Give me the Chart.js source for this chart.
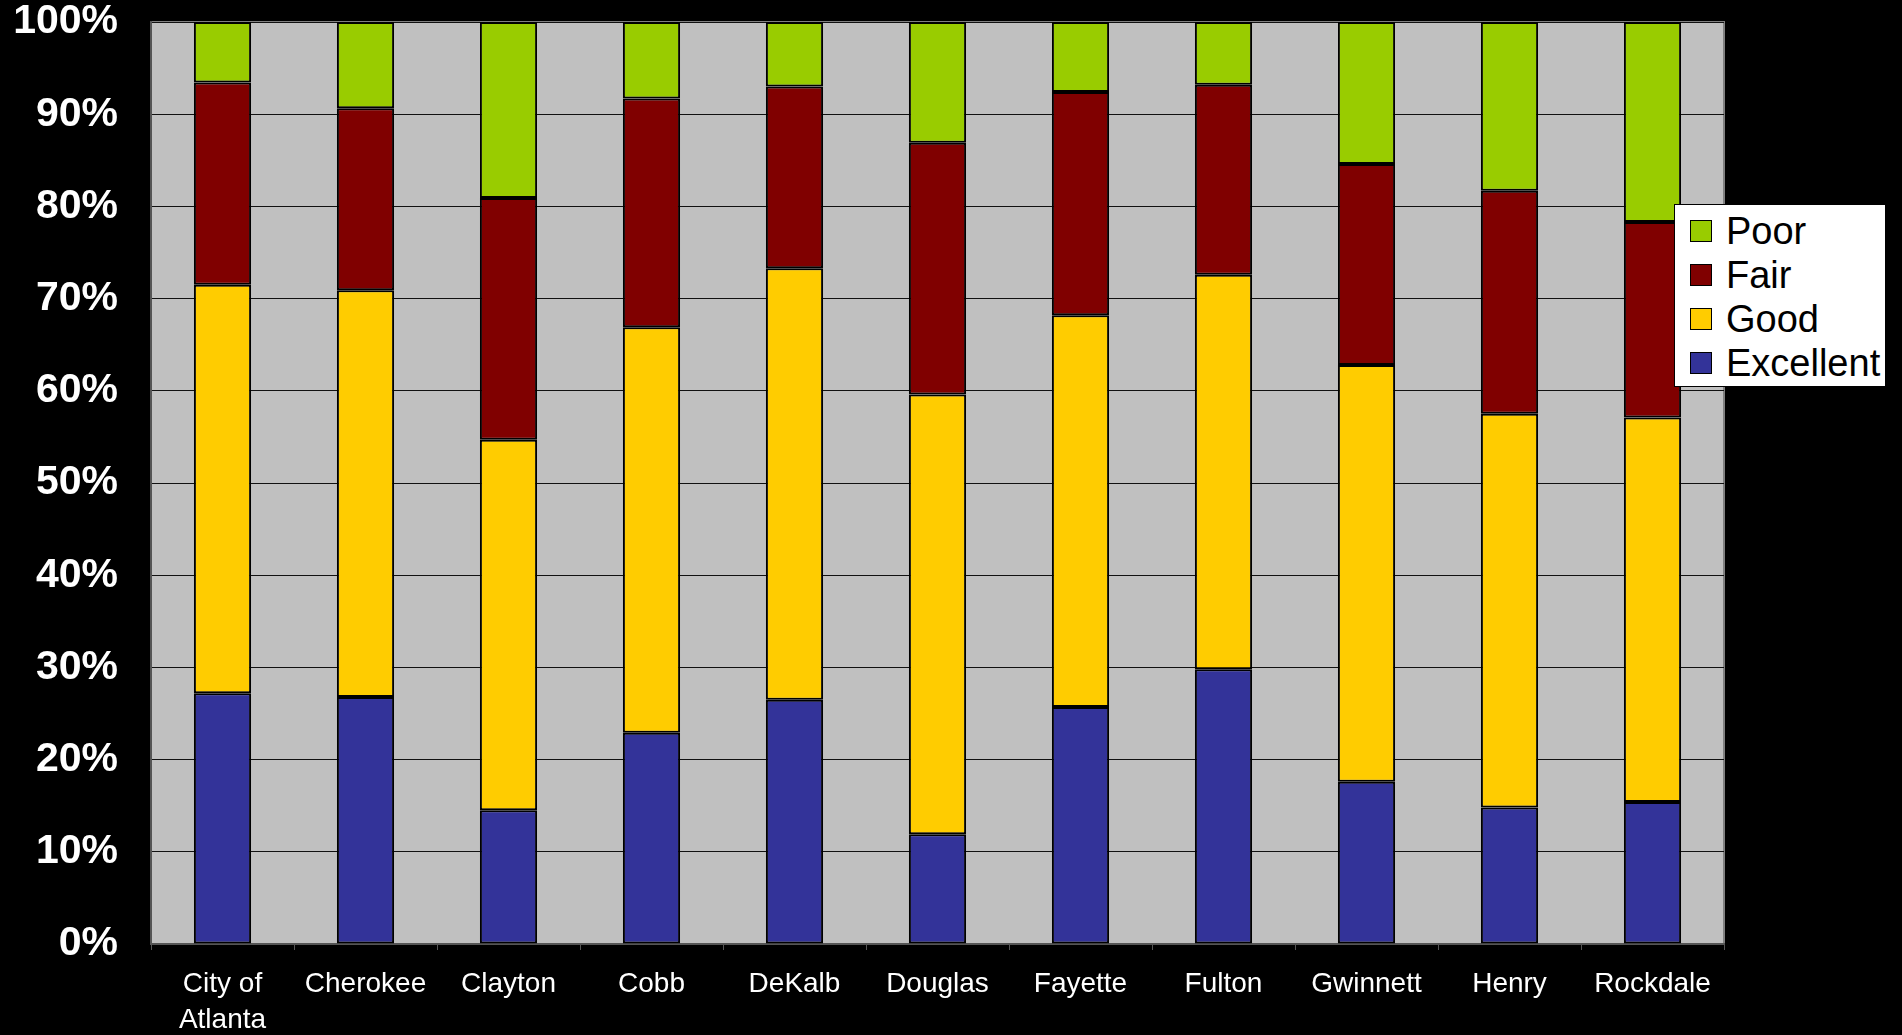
<!DOCTYPE html>
<html>
<head>
<meta charset="utf-8">
<script src="https://cdn.jsdelivr.net/npm/chart.js@4.4.1/dist/chart.umd.min.js"></script>
<style>
  html, body { margin: 0; padding: 0; background: #000; }
  #wrap { position: relative; width: 1902px; height: 1035px; }
  #legend {
    position: absolute; left: 1674px; top: 204px; width: 212px; height: 183px;
    background: #fff; border: 1px solid #000; font-family: "Liberation Sans", Arial, sans-serif;
    font-size: 38px; color: #000; box-sizing: border-box; padding-top: 4px;
  }
  #legend .item { height: 44px; display: flex; align-items: center; }
  #legend .box { width: 20px; height: 20px; border: 1.5px solid #000; margin-left: 15px; margin-right: 14px; }
</style>
</head>
<body>
<div id="wrap">
  <canvas id="c" width="1902" height="1035"></canvas>
  <div id="legend"></div>
</div>
<script>
const categories = [["City of", "Atlanta"], "Cherokee", "Clayton", "Cobb", "DeKalb", "Douglas",
  "Fayette", "Fulton", "Gwinnett", "Henry", "Rockdale"];

const excellent = [27.2, 26.8, 14.5, 22.9, 26.5, 11.9, 25.7, 29.8, 17.6, 14.8, 15.4];
const good      = [44.3, 44.1, 40.2, 44.0, 46.8, 47.7, 42.5, 42.8, 45.2, 42.7, 41.7];
const fair      = [21.95, 19.75, 26.2, 24.8, 19.7, 27.3, 24.2, 20.6, 21.8, 24.2, 21.2];
const poor      = [6.55, 9.35, 19.1, 8.3, 7.0, 13.1, 7.6, 6.8, 15.4, 18.3, 21.7];

const yTicks = [0, 10, 20, 30, 40, 50, 60, 70, 80, 90, 100];

const seriesNames = ["Excellent", "Good", "Fair", "Poor"];
const seriesColors = ["#333399", "#FFCC00", "#800000", "#99CC00"];
const seriesData = [excellent, good, fair, poor];

// grey plot background + frame
const plotBg = {
  id: "plotBg",
  beforeDraw(chart) {
    const { ctx, chartArea: a } = chart;
    ctx.save();
    ctx.fillStyle = "#C0C0C0";
    ctx.fillRect(a.left, a.top, a.right - a.left, a.bottom - a.top);
    ctx.strokeStyle = "#808080";
    ctx.lineWidth = 2;
    ctx.strokeRect(a.left, a.top, a.right - a.left, a.bottom - a.top);
    ctx.restore();
  }
};

const canvas = document.getElementById("c");
const chart = new Chart(canvas, {
  type: "bar",
  data: {
    labels: categories,
    datasets: seriesNames.map((name, i) => ({
      label: name,
      data: seriesData[i],
      backgroundColor: seriesColors[i],
      borderColor: "#000",
      borderWidth: 2,
      borderSkipped: false,
      categoryPercentage: 1,
      barPercentage: 0.4
    }))
  },
  options: {
    responsive: false,
    animation: false,
    layout: { padding: { top: 22, right: 178, left: 0, bottom: 0 } },
    plugins: { legend: { display: false }, tooltip: { enabled: false } },
    scales: {
      x: {
        stacked: true,
        grid: { display: true, drawOnChartArea: false, drawTicks: true, tickLength: 6, color: "#555", offset: true },
        border: { display: true, color: "#555", width: 2 },
        ticks: {
          color: "#fff",
          font: { family: "'Liberation Sans', Arial, sans-serif", size: 28, lineHeight: 1.3 },
          maxRotation: 0, autoSkip: false, padding: 16
        },
        afterFit(scale) { scale.height = 91; scale.paddingLeft = 0; scale.paddingRight = 0; }
      },
      y: {
        stacked: true,
        min: 0, max: 100,
        afterBuildTicks(scale) { scale.ticks = yTicks.map(v => ({ value: v })); },
        grid: { color: "#111", lineWidth: 1, drawTicks: false },
        border: { display: true, color: "#555", width: 2 },
        ticks: {
          color: "#fff",
          font: { family: "'Liberation Sans', Arial, sans-serif", size: 41, weight: "bold" },
          padding: 33,
          callback: v => v + "%"
        },
        afterFit(scale) { scale.width = 151; scale.paddingTop = 0; scale.paddingBottom = 0; }
      }
    }
  },
  plugins: [plotBg]
});

// legend, top entry = top of the stack
const legend = document.getElementById("legend");
for (let i = seriesNames.length - 1; i >= 0; i--) {
  const row = document.createElement("div");
  row.className = "item";
  row.innerHTML = '<span class="box" style="background:' + seriesColors[i] + '"></span>' + seriesNames[i];
  legend.appendChild(row);
}
</script>
</body>
</html>
